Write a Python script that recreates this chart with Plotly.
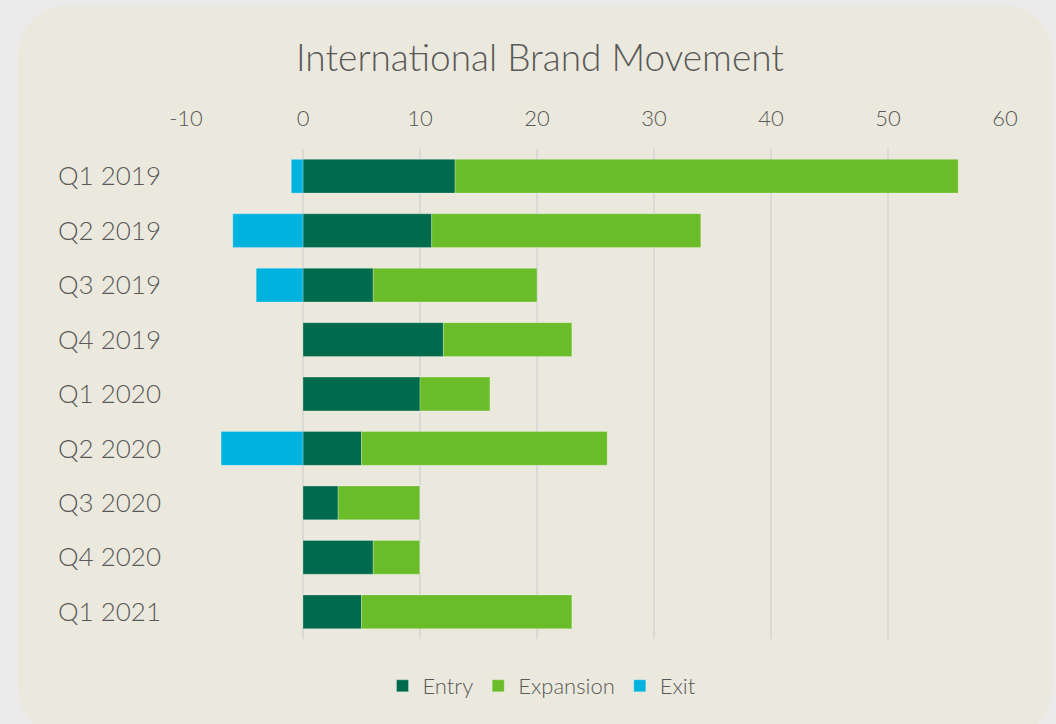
import plotly.graph_objects as go

quarters = ["Q1 2019", "Q2 2019", "Q3 2019", "Q4 2019", "Q1 2020",
            "Q2 2020", "Q3 2020", "Q4 2020", "Q1 2021"]
entry = [13, 11, 6, 12, 10, 5, 3, 6, 5]
expansion = [43, 23, 14, 11, 6, 21, 7, 4, 18]
exit_ = [-1, -6, -4, 0, 0, -7, 0, 0, 0]
x_ticks = [-10, 0, 10, 20, 30, 40, 50, 60]
x_tick_labels = ["-10", "0", "10", "20", "30", "40", "50", "60"]

W, H = 1056, 724
L, R, T, B = 186, 51, 149, 85
PW, PH = W - L - R, H - T - B

def px(x, y):
    return (x - L) / PW, 1 - (y - T) / PH

def rounded_path(x0, y0, x1, y1, r):
    k = 0.5523 * r
    def p(x, y):
        a, b = px(x, y)
        return f"{a:.5f},{b:.5f}"
    d = f"M {p(x0 + r, y0)} L {p(x1 - r, y0)} "
    d += f"C {p(x1 - r + k, y0)} {p(x1, y0 + r - k)} {p(x1, y0 + r)} "
    d += f"L {p(x1, y1 - r)} "
    d += f"C {p(x1, y1 - r + k)} {p(x1 - r + k, y1)} {p(x1 - r, y1)} "
    d += f"L {p(x0 + r, y1)} "
    d += f"C {p(x0 + r - k, y1)} {p(x0, y1 - r + k)} {p(x0, y1 - r)} "
    d += f"L {p(x0, y0 + r)} "
    d += f"C {p(x0, y0 + r - k)} {p(x0 + r - k, y0)} {p(x0 + r, y0)} Z"
    return d

font = "Lato, 'Open Sans', sans-serif"
txt = "#595959"
edge = dict(color="rgba(255,255,255,0.25)", width=1)

fig = go.Figure()
fig.add_trace(go.Bar(y=quarters, x=entry, name="Entry", orientation="h",
                     marker=dict(color="#006b4c", line=edge)))
fig.add_trace(go.Bar(y=quarters, x=expansion, name="Expansion", orientation="h",
                     marker=dict(color="#6abd28", line=edge)))
fig.add_trace(go.Bar(y=quarters, x=exit_, name="Exit", orientation="h",
                     marker=dict(color="#00b2de", line=edge)))

fig.update_layout(
    width=W, height=H,
    margin=dict(l=L, r=R, t=T, b=B),
    paper_bgcolor="#ebebeb",
    plot_bgcolor="rgba(0,0,0,0)",
    barmode="relative",
    bargap=0.38,
    font=dict(family=font, color=txt, weight=300),
    title=dict(text="International Brand Movement", x=540 / W, xanchor="center",
               y=1 - 58 / H, yanchor="middle",
               font=dict(size=37, color=txt, family=font, weight=300)),
    xaxis=dict(range=[-10, 60], tickvals=x_ticks, ticktext=x_tick_labels,
               side="top",
               showgrid=True, gridcolor="#d9d9d6", gridwidth=2,
               zeroline=False, showline=False, ticks="",
               tickfont=dict(size=22, color=txt, weight=300), ticklabelstandoff=18),
    yaxis=dict(autorange="reversed", showgrid=False, zeroline=False,
               showline=False, ticks="", ticklabelstandoff=24,
               tickfont=dict(size=26, color=txt, weight=300)),
    legend=dict(orientation="h", x=(542 - L) / PW, xanchor="center",
                y=1 - (686 - T) / PH, yanchor="middle",
                font=dict(size=22, color=txt, weight=300), itemwidth=30,
                traceorder="normal", bgcolor="rgba(0,0,0,0)"),
    shapes=[dict(type="path", xref="paper", yref="paper", layer="below",
                 path=rounded_path(18, 5, 1053, 738, 50),
                 fillcolor="#ebe9dd", line=dict(width=0))],
)

fig.write_html(
    "out.html",
    config={"displayModeBar": False},
    post_script="document.body.style.margin='0';document.body.style.background='#ebebeb';document.body.style.overflow='hidden';",
)
